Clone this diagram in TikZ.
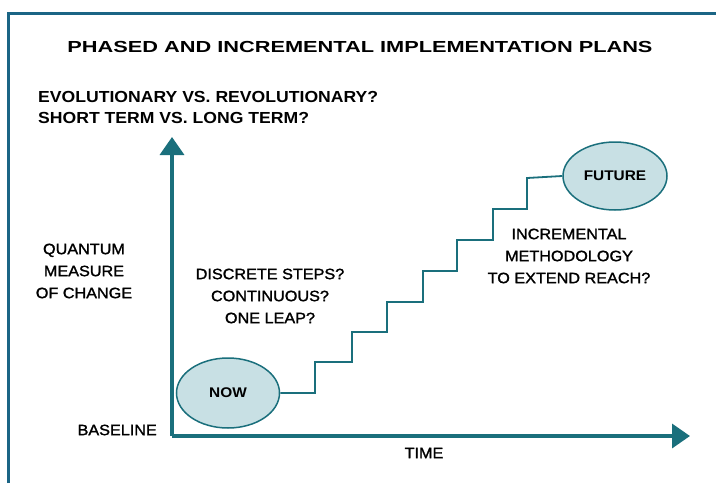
\documentclass[tikz,border=0pt]{standalone}
\usepackage{fontspec}
\setmainfont{Liberation Sans}
\newfontfamily\titlefont[FakeStretch=1.36]{Liberation Sans Bold}
\newfontfamily\headfont[FakeStretch=1.1]{Liberation Sans Bold}
\newfontfamily\bodyfont[FakeStretch=1.08,FakeBold=1.5]{Liberation Sans}
\usetikzlibrary{shapes.geometric,arrows.meta}
\definecolor{frameblue}{HTML}{1B6585}
\definecolor{axisteal}{HTML}{1A6F7C}
\definecolor{ellfill}{HTML}{C8E0E4}
\tikzset{
  framebar/.style={draw=frameblue,line width=3pt},
  axisline/.style={draw=axisteal,line width=3.5pt,-{Triangle[length=18pt,width=24pt]}},
  stairline/.style={draw=axisteal,line width=1.8pt},
  blob/.style={ellipse,draw=axisteal,line width=1.5pt,fill=ellfill,inner sep=0pt},
  lbl/.style={font=\bodyfont\fontsize{15}{22}\selectfont,align=center,inner sep=0pt},
  head/.style={font=\headfont\fontsize{16}{18}\selectfont,anchor=west,inner sep=0pt},
}
\begin{document}
\begin{tikzpicture}[x=1pt,y=-1pt]
\useasboundingbox[fill=white] (0,0) rectangle (716,483);
% frame
\coordinate (ftl) at (8,13.5);
\coordinate (ftr) at (716,13.5);
\coordinate (fbl) at (8,483);
\draw[framebar] (fbl) -- (ftl) -- (ftr);
% titles
\node[font=\titlefont\fontsize{16}{18}\selectfont,inner sep=0pt] (title) at (360,47) {PHASED AND INCREMENTAL IMPLEMENTATION PLANS};
\node[head] (h1) at (38,97) {EVOLUTIONARY VS. REVOLUTIONARY?};
\node[head] (h2) at (38,118) {SHORT TERM VS. LONG TERM?};
% axes
\coordinate (origin) at (172,436);
\coordinate (ytop) at (172,137);
\coordinate (xend) at (690,436);
\draw[axisline] (origin) -- (ytop);
\draw[axisline] (origin) -- (xend);
% ellipses
\node[blob,minimum width=103pt,minimum height=70pt] (now) at (228,393) {\headfont\fontsize{14}{16}\selectfont NOW};
\node[blob,minimum width=104pt,minimum height=68pt] (future) at (615,176) {\headfont\fontsize{14}{16}\selectfont FUTURE};
% staircase
\coordinate (s1) at (315,362);
\coordinate (s2) at (352,332);
\coordinate (s3) at (387,302);
\coordinate (s4) at (423,271);
\coordinate (s5) at (457,240);
\coordinate (s6) at (493,209);
\coordinate (s7) at (527,178);
\draw[stairline] (now.east) -| (s1) -| (s2) -| (s3) -| (s4) -| (s5) -| (s6) -| (s7) -- (future.west);
% labels
\node[lbl] (quantum) at (84,271) {QUANTUM\\MEASURE\\OF CHANGE};
\node[lbl] (discrete) at (270,296) {DISCRETE STEPS?\\CONTINUOUS?\\ONE LEAP?};
\node[lbl] (incr) at (569,256) {INCREMENTAL\\METHODOLOGY\\TO EXTEND REACH?};
\node[lbl,anchor=east] (baseline) at (157,430) {BASELINE};
\node[lbl] (time) at (424,453) {TIME};
\end{tikzpicture}
\end{document}
